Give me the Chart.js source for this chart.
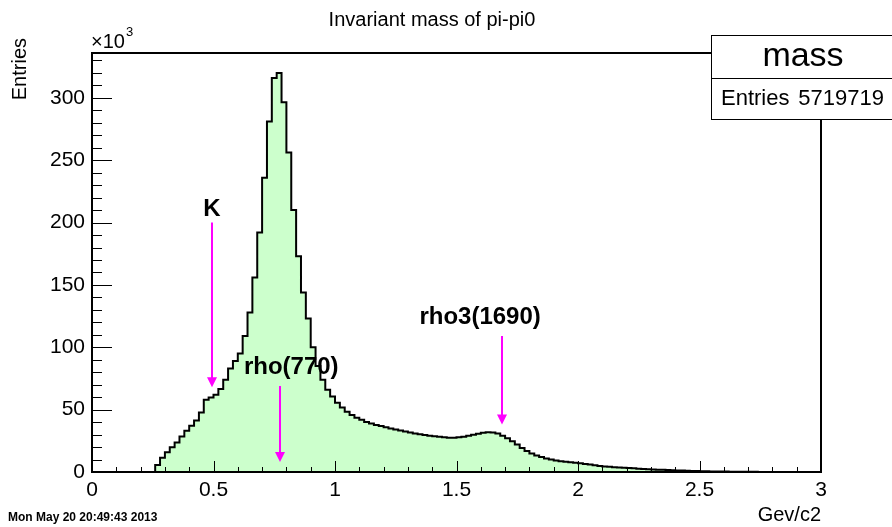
<!DOCTYPE html>
<html><head><meta charset="utf-8">
<script src="https://cdn.jsdelivr.net/npm/chart.js@4/dist/chart.umd.min.js"></script>
<style>html,body{margin:0;padding:0;background:#fff;}</style>
</head><body>
<canvas id="c" width="892" height="527"></canvas>
<script>
// ---- data (entries per 0.02 GeV/c2 bin, in units of 10^3) ----
const binLow = 0;
const binWidth = 0.02;
const counts = [
  0,0,0,0,0,0,0,0,0,0,0,0,0,0,
  5.6,11.5,15.8,19.8,23.6,28.4,33.0,37.0,41.3,47.7,
  57.9,59.8,61.9,66.5,74,83,89,95,109,128,
  156,192,236,281,316,320,296.5,256.3,210.2,173,
  144,123,100,85,74,66,60.5,55.6,51.8,48.3,
  45.7,43.6,41.8,40.1,38.8,37.7,36.9,35.9,34.9,34.0,
  33.2,32.5,31.7,30.9,30.2,29.6,29.1,28.6,28.2,27.8,
  27.5,27.4,27.8,28.2,29.0,29.8,30.7,31.5,31.9,31.7,
  30.8,29.0,27.0,24.6,22.0,19.3,16.8,14.8,13.2,12.0,
  10.9,10.0,9.3,8.7,8.2,7.8,7.4,7.0,6.5,6.0,
  5.4,4.9,4.5,4.2,3.9,3.6,3.4,3.2,3.0,2.7,
  2.5,2.3,2.1,1.9,1.8,1.6,1.5,1.3,1.2,1.0,
  0.9,0.8,0.7,0.6,0.5,0.45,0.4,0.35,0.3,0.25,
  0.2,0.2,0.15,0.15,0.1,0.1,0.1,0.1,0.05,0.05,
  0.05,0.05,0.05,0.05,0.05,0.05
];
const xTickValues = [0, 0.5, 1, 1.5, 2, 2.5, 3];
const xTickLabels = ['0', '0.5', '1', '1.5', '2', '2.5', '3'];
const yTickValues = [0, 50, 100, 150, 200, 250, 300];
const yTickLabels = ['0', '50', '100', '150', '200', '250', '300'];
// resonance markers
const markerNames = ['K', 'rho(770)', 'rho3(1690)'];
const markerMass = [0.4937, 0.775, 1.689];
const arrowTop = [200, 69, 109];
const arrowTip = [68, 8, 38];
const labelX = [0.4937, 0.82, 1.597];
const labelY = [210.7, 83.6, 123.9];
const histName = 'mass';
const histEntries = '5719719';

// build step points from bin edges
const points = counts.map((c, i) => ({ x: binLow + i * binWidth, y: c }));
points.push({ x: binLow + counts.length * binWidth, y: counts[counts.length - 1] });

const FONT = "'Liberation Sans', Arial, Helvetica, sans-serif";

const decor = {
  id: 'decor',
  afterDatasetsDraw(chart) {
    const ctx = chart.ctx;
    const xs = chart.scales.x, ys = chart.scales.y;
    const a = chart.chartArea;
    ctx.save();
    // inward ticks
    ctx.strokeStyle = '#000';
    ctx.lineWidth = 1;
    ctx.beginPath();
    for (let v = 0; v <= 3.0001; v += 0.1) {
      const px = Math.round(xs.getPixelForValue(v)) + 0.5;
      const major = Math.abs(v * 2 - Math.round(v * 2)) < 1e-6;
      const len = major ? 11 : 5;
      ctx.moveTo(px, a.bottom); ctx.lineTo(px, a.bottom - len);
    }
    for (let v = 0; v <= 336; v += 10) {
      const py = Math.round(ys.getPixelForValue(v)) + 0.5;
      const major = v % 50 === 0;
      const len = major ? 20 : 10;
      ctx.moveTo(a.left, py); ctx.lineTo(a.left + len, py);
    }
    ctx.stroke();
    // frame
    ctx.lineWidth = 2;
    ctx.strokeRect(a.left, a.top, a.right - a.left, a.bottom - a.top);

    // arrows & labels
    ctx.strokeStyle = '#ff00ff';
    ctx.fillStyle = '#ff00ff';
    for (let i = 0; i < markerNames.length; i++) {
      const x = Math.round(xs.getPixelForValue(markerMass[i]));
      const yt = ys.getPixelForValue(arrowTop[i]);
      const yp = ys.getPixelForValue(arrowTip[i]);
      ctx.lineWidth = 2;
      ctx.beginPath(); ctx.moveTo(x, yt); ctx.lineTo(x, yp - 6); ctx.stroke();
      ctx.beginPath(); ctx.moveTo(x - 5, yp - 10); ctx.lineTo(x + 5, yp - 10); ctx.lineTo(x, yp); ctx.closePath(); ctx.fill();
    }
    ctx.fillStyle = '#000';
    ctx.font = 'bold 24px ' + FONT;
    ctx.textAlign = 'center'; ctx.textBaseline = 'middle';
    for (let i = 0; i < markerNames.length; i++) {
      ctx.fillText(markerNames[i], xs.getPixelForValue(labelX[i]), ys.getPixelForValue(labelY[i]));
    }

    // title
    ctx.font = '20px ' + FONT;
    ctx.fillText('Invariant mass of pi-pi0', 432, 20);

    // x10^3
    ctx.textAlign = 'left'; ctx.textBaseline = 'alphabetic';
    ctx.font = '20px ' + FONT;
    ctx.fillText('\u00d710', 91, 48);
    const w = ctx.measureText('\u00d710').width;
    ctx.font = '13px ' + FONT;
    ctx.fillText('3', 91 + w + 1, 36);

    // y title
    ctx.save();
    ctx.translate(26, 38);
    ctx.rotate(-Math.PI / 2);
    ctx.font = '20px ' + FONT;
    ctx.textAlign = 'right';
    ctx.fillText('Entries', 0, 0);
    ctx.restore();

    // x title
    ctx.font = '20px ' + FONT;
    ctx.textAlign = 'right';
    ctx.fillText('Gev/c2', 821, 521);

    // date
    ctx.font = 'bold 12px ' + FONT;
    ctx.textAlign = 'left';
    ctx.fillText('Mon May 20 20:49:43 2013', 8, 521);

    // stats box
    ctx.fillStyle = '#fff';
    ctx.fillRect(711.5, 35.5, 190, 84);
    ctx.strokeStyle = '#000';
    ctx.lineWidth = 1;
    ctx.strokeRect(711.5, 35.5, 190, 84);
    ctx.beginPath(); ctx.moveTo(711.5, 78.5); ctx.lineTo(892, 78.5); ctx.stroke();
    ctx.fillStyle = '#000';
    ctx.font = '34px ' + FONT;
    ctx.textAlign = 'center'; ctx.textBaseline = 'middle';
    ctx.fillText(histName, 803, 57);
    ctx.font = '22px ' + FONT;
    ctx.textAlign = 'left';
    ctx.fillText('Entries', 721, 99);
    ctx.textAlign = 'right';
    ctx.fillText(histEntries, 884, 99);
    ctx.restore();
  }
};

new Chart(document.getElementById('c'), {
  type: 'line',
  data: {
    datasets: [{
      data: points,
      stepped: 'after',
      borderColor: '#000',
      borderWidth: 2,
      backgroundColor: '#ccffcc',
      fill: 'origin',
      pointRadius: 0,
      tension: 0
    }]
  },
  options: {
    responsive: false,
    animation: false,
    devicePixelRatio: 1,
    layout: { padding: { left: 0, right: 71, top: 53, bottom: 0 } },
    plugins: { legend: { display: false }, tooltip: { enabled: false }, title: { display: false } },
    scales: {
      x: {
        type: 'linear', min: 0, max: 3,
        afterFit: s => { s.height = 55; },
        afterBuildTicks: s => { s.ticks = xTickValues.map(v => ({ value: v })); },
        grid: { display: false, drawTicks: false },
        border: { display: false },
        ticks: {
          padding: 6, color: '#000', maxRotation: 0, autoSkip: false,
          font: { family: FONT, size: 21 },
          callback: (v, i) => xTickLabels[i]
        }
      },
      y: {
        type: 'linear', min: 0, max: 336,
        afterFit: s => { s.width = 92; },
        afterBuildTicks: s => { s.ticks = yTickValues.map(v => ({ value: v })); },
        grid: { display: false, drawTicks: false },
        border: { display: false },
        ticks: {
          padding: 7, color: '#000', autoSkip: false,
          font: { family: FONT, size: 21 },
          callback: (v, i) => yTickLabels[i]
        }
      }
    }
  },
  plugins: [decor]
});
</script>
</body></html>
